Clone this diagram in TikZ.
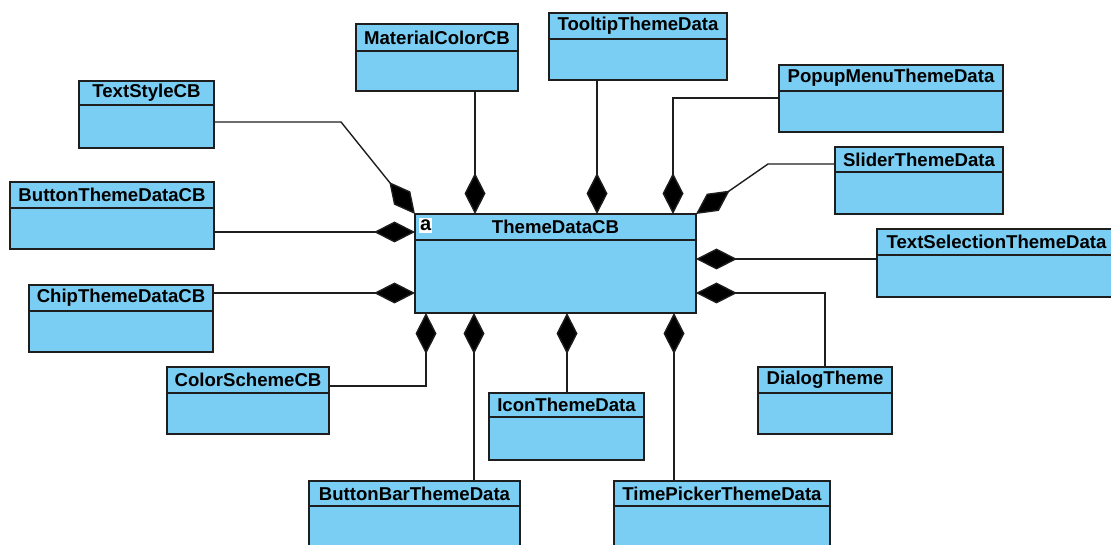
\documentclass[tikz,border=0pt]{standalone}
\usepackage{fontspec}
\setmainfont{Liberation Sans}
\usetikzlibrary{arrows.meta}
\definecolor{clsfill}{RGB}{122,206,244}
\definecolor{edge}{RGB}{30,30,30}
\tikzset{
  clsbox/.style={draw=edge, line width=1.4pt, fill=clsfill, inner sep=0pt,
                 outer sep=0pt, anchor=north west},
  clstitle/.style={font=\fontsize{18.6}{20}\selectfont\bfseries, inner sep=0pt},
  divider/.style={draw=edge, line width=1.4pt},
  comp/.style={draw=edge, line width=1.4pt,
               -{Diamond[length=41pt,width=21pt,fill=black]}},
}
% class box: name, left, top, right, bottom, divider y, title
\newcommand\umlclass[7]{%
  \node[clsbox, minimum width={#4-#2}, minimum height={#5-#3}] (#1) at (#2,#3) {};
  \draw[divider] (#1.west |- 0,#6) -- (#1.east |- 0,#6);
  \node[clstitle] (#1-t) at ({(#2+#4)/2},{(#3+#6)/2}) {#7};
}
\begin{document}
\begin{tikzpicture}[x=1pt, y=-1pt]
\useasboundingbox (0,0) rectangle (1111,545);

% central class
\umlclass{tdc}{415}{214}{696}{313}{240}{ThemeDataCB}
\node[fill=white, inner sep=0pt, minimum width=13pt, minimum height=15pt,
      font=\fontsize{20}{20}\selectfont\bfseries, anchor=north west]
  (abs) at (419,218) {a};

% surrounding classes
\umlclass{tsc}{79}{81}{214}{148}{105}{TextStyleCB}
\umlclass{btd}{10}{182}{214}{249}{208}{ButtonThemeDataCB}
\umlclass{chip}{29}{285}{213}{352}{311}{ChipThemeDataCB}
\umlclass{csc}{167}{367}{329}{434}{393}{ColorSchemeCB}
\umlclass{mcc}{356}{24}{518}{91}{51}{MaterialColorCB}
\umlclass{ttd}{549}{13}{727}{80}{39}{TooltipThemeData}
\umlclass{pmt}{779}{65}{1003}{132}{91}{PopupMenuThemeData}
\umlclass{sld}{835}{147}{1003}{214}{172}{SliderThemeData}
\umlclass{tst}{877}{229}{1116}{297}{255}{TextSelectionThemeData}
\umlclass{dlg}{758}{367}{892}{434}{393}{DialogTheme}
\umlclass{itd}{489}{393}{644}{460}{417}{IconThemeData}
\umlclass{bbt}{309}{481}{520}{555}{506}{ButtonBarThemeData}
\umlclass{tpt}{614}{481}{830}{555}{506}{TimePickerThemeData}

% bend points
\coordinate (tscB) at (341,122);
\coordinate (sldB) at (768,164);

% compositions into ThemeDataCB
\draw[comp] (tsc.east |- tscB) -- (tscB) -- (tdc.north west);
\draw[comp] (btd.east |- 0,232) -- (tdc.west |- 0,232);
\draw[comp] (chip.east |- 0,293) -- (tdc.west |- 0,293);
\draw[comp] (csc.east |- 0,386) -| (tdc.south west -| 426,0);
\draw[comp] (bbt.north -| 474,0) -- (tdc.south -| 474,0);
\draw[comp] (itd.north -| 567,0) -- (tdc.south -| 567,0);
\draw[comp] (tpt.north -| 674,0) -- (tdc.south -| 674,0);
\draw[comp] (dlg.north -| 825,0) |- (tdc.east |- 0,293);
\draw[comp] (tst.west |- 0,259) -- (tdc.east |- 0,259);
\draw[comp] (sld.west |- sldB) -- (sldB) -- (tdc.north east);
\draw[comp] (pmt.west |- 0,98) -| (tdc.north -| 673,0);
\draw[comp] (ttd.south -| 597,0) -- (tdc.north -| 597,0);
\draw[comp] (mcc.south -| 475,0) -- (tdc.north -| 475,0);
\end{tikzpicture}
\end{document}
